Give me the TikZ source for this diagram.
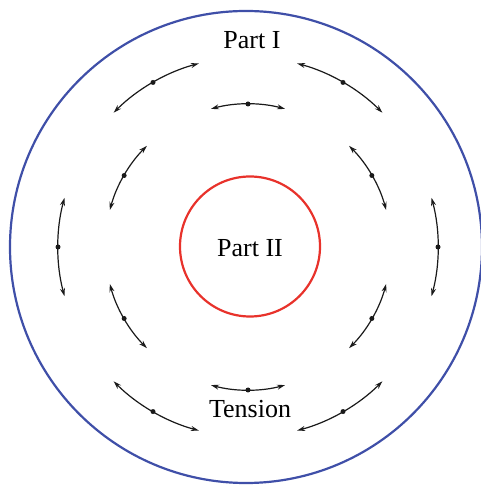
\documentclass[tikz,border=0pt]{standalone}
\usepackage{fontspec}
\setmainfont{Liberation Serif}
\usetikzlibrary{arrows.meta,calc}
\definecolor{RingBlue}{HTML}{3F4FA8}
\definecolor{CoreRed}{HTML}{E8322B}
\definecolor{TensionInk}{HTML}{1A1A1A}
\tikzset{
  ring/outer/.style={draw=RingBlue, line width=2.2pt},
  ring/core/.style={draw=CoreRed, line width=2.2pt},
  ring/tension/.style={
    {Stealth[length=8pt,width=5pt]}-{Stealth[length=8pt,width=5pt]},
    line width=1.2pt, draw=TensionInk
  },
  ring/dot/.style={circle, fill=TensionInk, inner sep=0pt, minimum size=5pt},
  ring/label/.style={font=\fontsize{26}{30}\selectfont, anchor=base}
}
\begin{document}
\begin{tikzpicture}[x=1pt,y=1pt]
  \useasboundingbox (0,0) rectangle (481,487);
  \coordinate (c) at (248,240);
  \draw[ring/outer] (246,240) circle[radius=236];
  \draw[ring/core] (250,240.5) circle[radius=70];
  % outer ring of tension arrows
  \foreach \a in {0,60,...,300} {
    \draw[ring/tension] ($(c)+(\a-15:190)$) arc[start angle=\a-15, end angle=\a+15, radius=190];
    \node[ring/dot] (o\a) at ($(c)+(\a:190)$) {};
  }
  % inner ring of tension arrows
  \foreach \a in {30,90,...,330} {
    \draw[ring/tension] ($(c)+(\a-15:143)$) arc[start angle=\a-15, end angle=\a+15, radius=143];
    \node[ring/dot] (i\a) at ($(c)+(\a:143)$) {};
  }
  \node[ring/label] (partone) at (252,438) {Part I};
  \node[ring/label] (parttwo) at (250,230) {Part II};
  \node[ring/label] (tension) at (250,69) {Tension};
\end{tikzpicture}
\end{document}
